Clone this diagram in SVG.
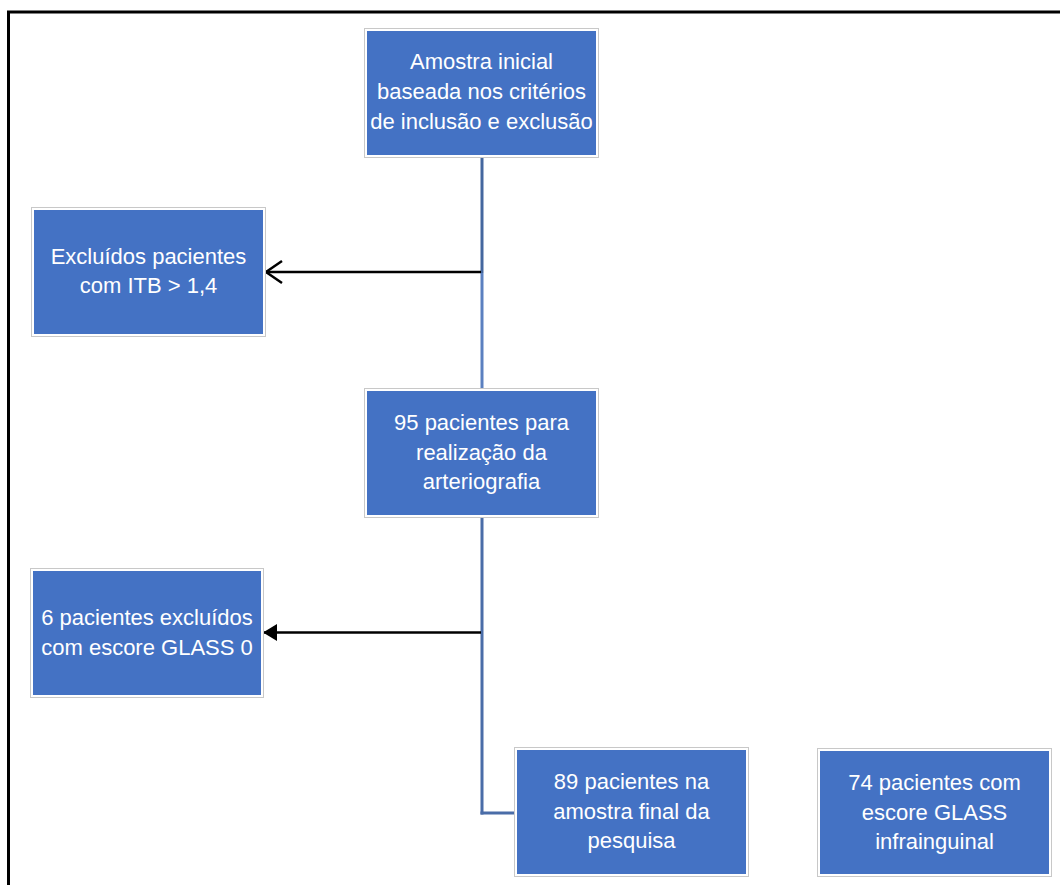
<svg xmlns="http://www.w3.org/2000/svg" width="1060" height="885" viewBox="0 0 1060 885">
<style>
.box{fill:#4472C4;stroke:#ffffff;stroke-width:2}
.rim{fill:none;stroke:#c8c8c8;stroke-width:1}
.t{font-family:"Liberation Sans",Arial,sans-serif;font-size:22px;fill:#ffffff;text-anchor:middle}
.blk{stroke:#000000;stroke-width:2.5;fill:none}
</style>
<defs>
<marker id="open" markerUnits="userSpaceOnUse" markerWidth="18" markerHeight="24" viewBox="0 0 18 24" refX="17" refY="12" orient="auto" overflow="visible">
<path d="M1,1 L17,12 L1,23" fill="none" stroke="#000000" stroke-width="2.5"/>
</marker>
<marker id="solid" markerUnits="userSpaceOnUse" markerWidth="14" markerHeight="17" viewBox="0 0 14 17" refX="14" refY="8.5" orient="auto" overflow="visible">
<path d="M0,0 L14,8.5 L0,17 Z" fill="#000000"/>
</marker>
</defs>
<rect width="1060" height="885" fill="#ffffff"/>
<g id="frame">
<line x1="7" y1="12" x2="1060" y2="12" stroke="#000000" stroke-width="3"/>
<line x1="8.5" y1="11" x2="8.5" y2="885" stroke="#000000" stroke-width="3"/>
</g>
<g id="connectors">
<line x1="482" y1="157" x2="482" y2="273" stroke="#44679F" stroke-width="3"/>
<line x1="482" y1="273" x2="482" y2="389" stroke="#5B80C0" stroke-width="3"/>
<line x1="482" y1="517" x2="482" y2="814.5" stroke="#4A6DA8" stroke-width="3"/>
<line x1="480.5" y1="813" x2="516" y2="813" stroke="#4A6DA8" stroke-width="3"/>
<line x1="481" y1="272" x2="266" y2="272" class="blk" marker-end="url(#open)"/>
<line x1="481" y1="632.5" x2="263" y2="632.5" class="blk" marker-end="url(#solid)"/>
</g>
<g id="n1">
<rect class="rim" x="364.5" y="28.5" width="234" height="129"/>
<rect class="box" x="366" y="30" width="231" height="126"/>
<text class="t" x="481.5" y="69">Amostra inicial</text>
<text class="t" x="481.5" y="99">baseada nos critérios</text>
<text class="t" x="481.5" y="129">de inclusão e exclusão</text>
</g>
<g id="n2">
<rect class="rim" x="31.5" y="207.5" width="234" height="129"/>
<rect class="box" x="33" y="209" width="231" height="126"/>
<text class="t" x="148.5" y="264">Excluídos pacientes</text>
<text class="t" x="148.5" y="293">com ITB &gt; 1,4</text>
</g>
<g id="n3">
<rect class="rim" x="364.5" y="388.5" width="234" height="129"/>
<rect class="box" x="366" y="390" width="231" height="126"/>
<text class="t" x="481.5" y="430">95 pacientes para</text>
<text class="t" x="481.5" y="460">realização da</text>
<text class="t" x="481.5" y="489">arteriografia</text>
</g>
<g id="n4">
<rect class="rim" x="30.5" y="568.5" width="233" height="129"/>
<rect class="box" x="32" y="570" width="230" height="126"/>
<text class="t" x="147" y="625">6 pacientes excluídos</text>
<text class="t" x="147" y="655">com escore GLASS 0</text>
</g>
<g id="n5">
<rect class="rim" x="514.5" y="747.5" width="234" height="129"/>
<rect class="box" x="516" y="749" width="231" height="126"/>
<text class="t" x="631.5" y="789">89 pacientes na</text>
<text class="t" x="631.5" y="819">amostra final da</text>
<text class="t" x="631.5" y="848">pesquisa</text>
</g>
<g id="n6">
<rect class="rim" x="817.5" y="748.5" width="234" height="128"/>
<rect class="box" x="819" y="750" width="231" height="125"/>
<text class="t" x="934.5" y="790">74 pacientes com</text>
<text class="t" x="934.5" y="820">escore GLASS</text>
<text class="t" x="934.5" y="849">infrainguinal</text>
</g>
</svg>
